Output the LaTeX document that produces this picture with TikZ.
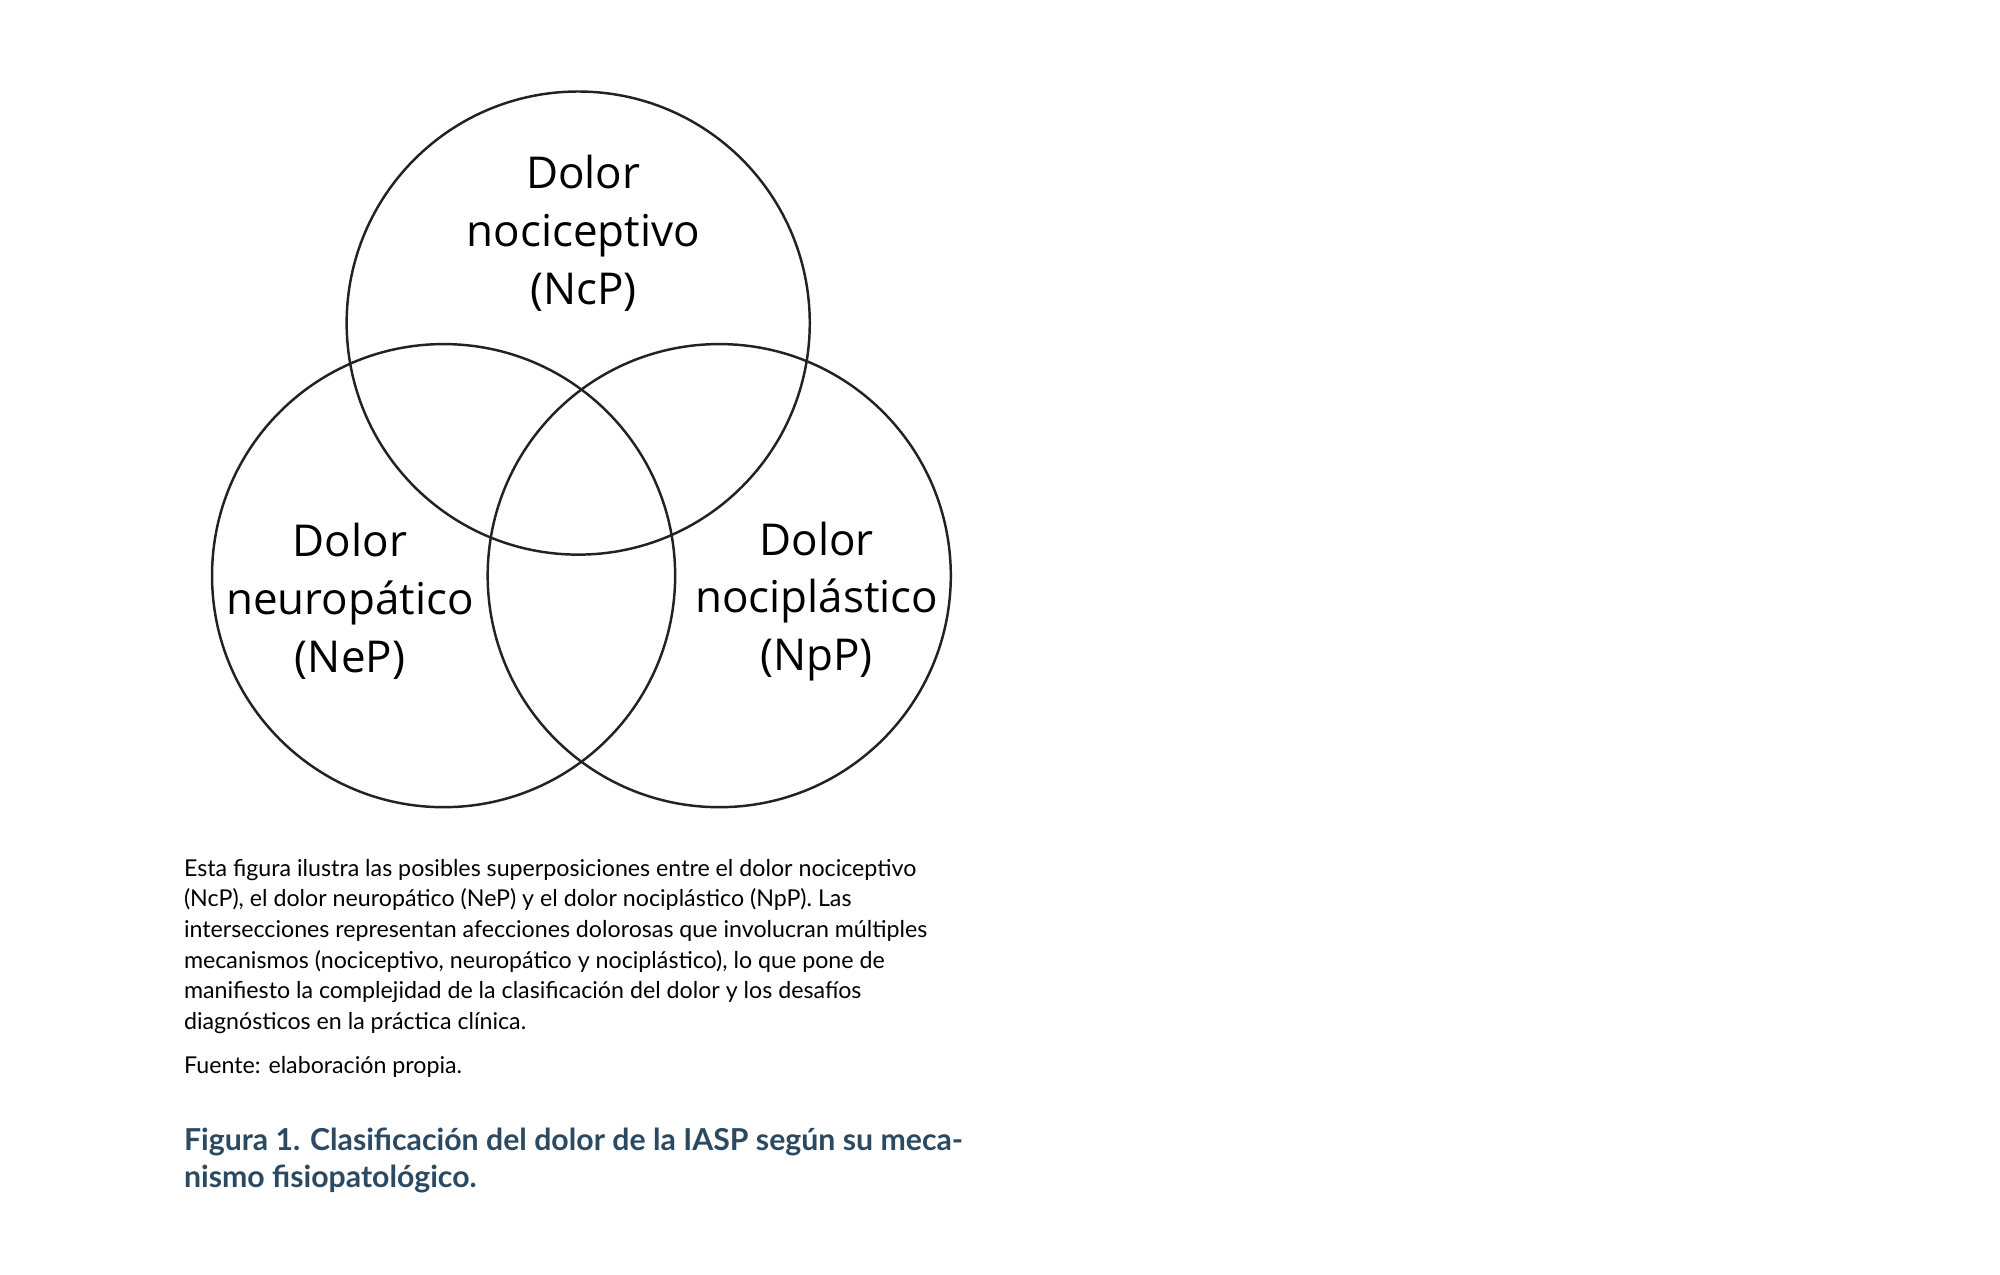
\documentclass[tikz,border=0pt]{standalone}
\usepackage{fontspec}
\setmainfont{Lato}
\newfontfamily\labelfont{Open Sans}
\usetikzlibrary{positioning}
\definecolor{titleblue}{HTML}{2B4A62}
\definecolor{linegray}{HTML}{222222}
\tikzset{
    mycircle/.style = {circle, line width=0.7pt, draw=linegray, minimum size=4.63cm, inner sep=0pt},
    mylabel/.style = {align=center, font=\labelfont\fontsize{12.5}{16.4}\selectfont, text=black},
    mycaption/.style = {align=left, anchor=base west, inner sep=0pt, font=\fontsize{6.6}{8.73}\selectfont, text=black},
    mytitle/.style = {align=left, anchor=base west, inner sep=0pt, font=\bfseries\fontsize{8.6}{10.5}\selectfont, text=titleblue}
}
\begin{document}
\begin{tikzpicture}[x=0.0128205cm, y=-0.0128205cm]
  \useasboundingbox[fill=white] (0,0) rectangle (1560,994.5);
  % circles
  \node[mycircle] (ncp) at (451,252) {};
  \node[mycircle] (nep) at (346,449) {};
  \node[mycircle] (npp) at (561,449) {};
  % labels
  \node[mylabel] (lncp) at (455,182) {Dolor\\nociceptivo\\(NcP)};
  \node[mylabel] (lnep) at (273,469) {Dolor\\neuropático\\(NeP)};
  \node[mylabel] (lnpp) at (637,469) {Dolor\\nociplástico\\(NpP)};
  % caption (base = last line)
  \node[mycaption] (cap) at (143,803) {Esta figura ilustra las posibles superposiciones entre el dolor nociceptivo\\
    (NcP), el dolor neuropático (NeP) y el dolor nociplástico (NpP). Las\\
    intersecciones representan afecciones dolorosas que involucran múltiples\\
    mecanismos (nociceptivo, neuropático y nociplástico), lo que pone de\\
    manifiesto la complejidad de la clasificación del dolor y los desafíos\\
    diagnósticos en la práctica clínica.};
  \node[mycaption] (src) at (143,837) {Fuente: elaboración propia.};
  \node[mytitle] (fig) at (143,926) {Figura 1. Clasificación del dolor de la IASP según su meca-\\
    nismo fisiopatológico.};
\end{tikzpicture}
\end{document}
